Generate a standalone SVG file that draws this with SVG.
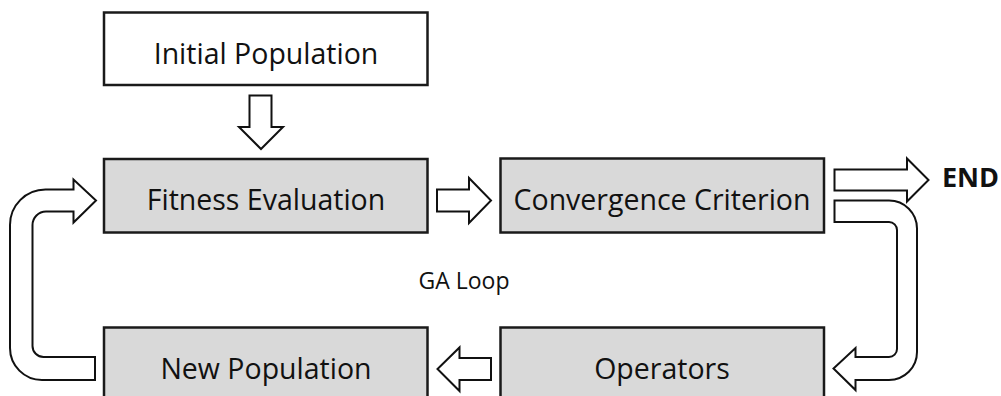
<svg xmlns="http://www.w3.org/2000/svg" width="1001" height="396" viewBox="0 0 1001 396">
  <style>
    .box { fill: #d9d9d9; stroke: #1a1a1a; stroke-width: 2.5; }
    .box.plain { fill: #ffffff; }
    .label { font-family: "Open Sans", "Noto Sans", sans-serif; font-size: 28.5px; fill: #111; text-anchor: middle; }
    .note { font-family: "Open Sans", "Noto Sans", sans-serif; font-size: 23px; fill: #111; text-anchor: middle; }
    .end { font-family: "Open Sans", "Noto Sans", sans-serif; font-size: 27px; font-weight: bold; fill: #111; }
    .block { fill: #ffffff; stroke: #111; stroke-width: 2; stroke-linejoin: miter; }
  </style>
  <rect width="1001" height="396" fill="#ffffff"/>

  <!-- block arrows between the stages -->
  <g id="connectors">
    <!-- Initial Population down to Fitness Evaluation -->
    <path class="block" d="M249.5,95.5 H271.5 V127 H283 L261,149 L239,127 H249.5 Z"/>
    <!-- Fitness Evaluation to Convergence Criterion -->
    <path class="block" d="M437,189.5 H469 V178 L491,200.5 L469,223 V211.5 H437 Z"/>
    <!-- Convergence Criterion to END -->
    <path class="block" d="M834.5,169.5 H907 V158.5 L928.5,180 L907,201.5 V190.5 H834.5 Z"/>
    <!-- Convergence Criterion round to Operators -->
    <path class="block" d="M834.5,200.5 H889 A28,28 0 0 1 917,228.5 V352 A28,28 0 0 1 889,380 H855.5 V390 L833.5,368.5 L855.5,348 V357 H889 A8,8 0 0 0 897,349 V230 A8,8 0 0 0 889,222 H834.5 Z"/>
    <!-- Operators to New Population -->
    <path class="block" d="M491,358 V380 H459.5 V391 L437.5,369 L459.5,347.5 V358 Z"/>
    <!-- New Population round to Fitness Evaluation -->
    <path class="block" d="M95,380 H42 A32,32 0 0 1 10,348 V225 A35.5,35.5 0 0 1 45.5,189.5 H73.5 V179.5 L96,200.5 L73.5,222.5 V211.5 H46 A13.5,13.5 0 0 0 32.5,225 V346 A11,11 0 0 0 43.5,357 H95 Z"/>
  </g>

  <g id="initial-population">
    <rect class="box plain" x="104" y="12.5" width="323.5" height="72.5"/>
    <text class="label" x="266" y="63.5">Initial Population</text>
  </g>

  <g id="fitness-evaluation">
    <rect class="box" x="104" y="159" width="323.5" height="73.5"/>
    <text class="label" x="266" y="209.5">Fitness Evaluation</text>
  </g>

  <g id="convergence-criterion">
    <rect class="box" x="500.5" y="158.5" width="323.5" height="74"/>
    <text class="label" x="662" y="209.5">Convergence Criterion</text>
  </g>

  <g id="new-population">
    <rect class="box" x="104" y="327.5" width="323.5" height="80"/>
    <text class="label" x="266" y="379">New Population</text>
  </g>

  <g id="operators">
    <rect class="box" x="500.5" y="327.5" width="323.5" height="80"/>
    <text class="label" x="662" y="379">Operators</text>
  </g>

  <g id="end">
    <text class="end" x="942" y="187">END</text>
  </g>

  <g id="ga-loop">
    <text class="note" x="464" y="288.5">GA Loop</text>
  </g>
</svg>
